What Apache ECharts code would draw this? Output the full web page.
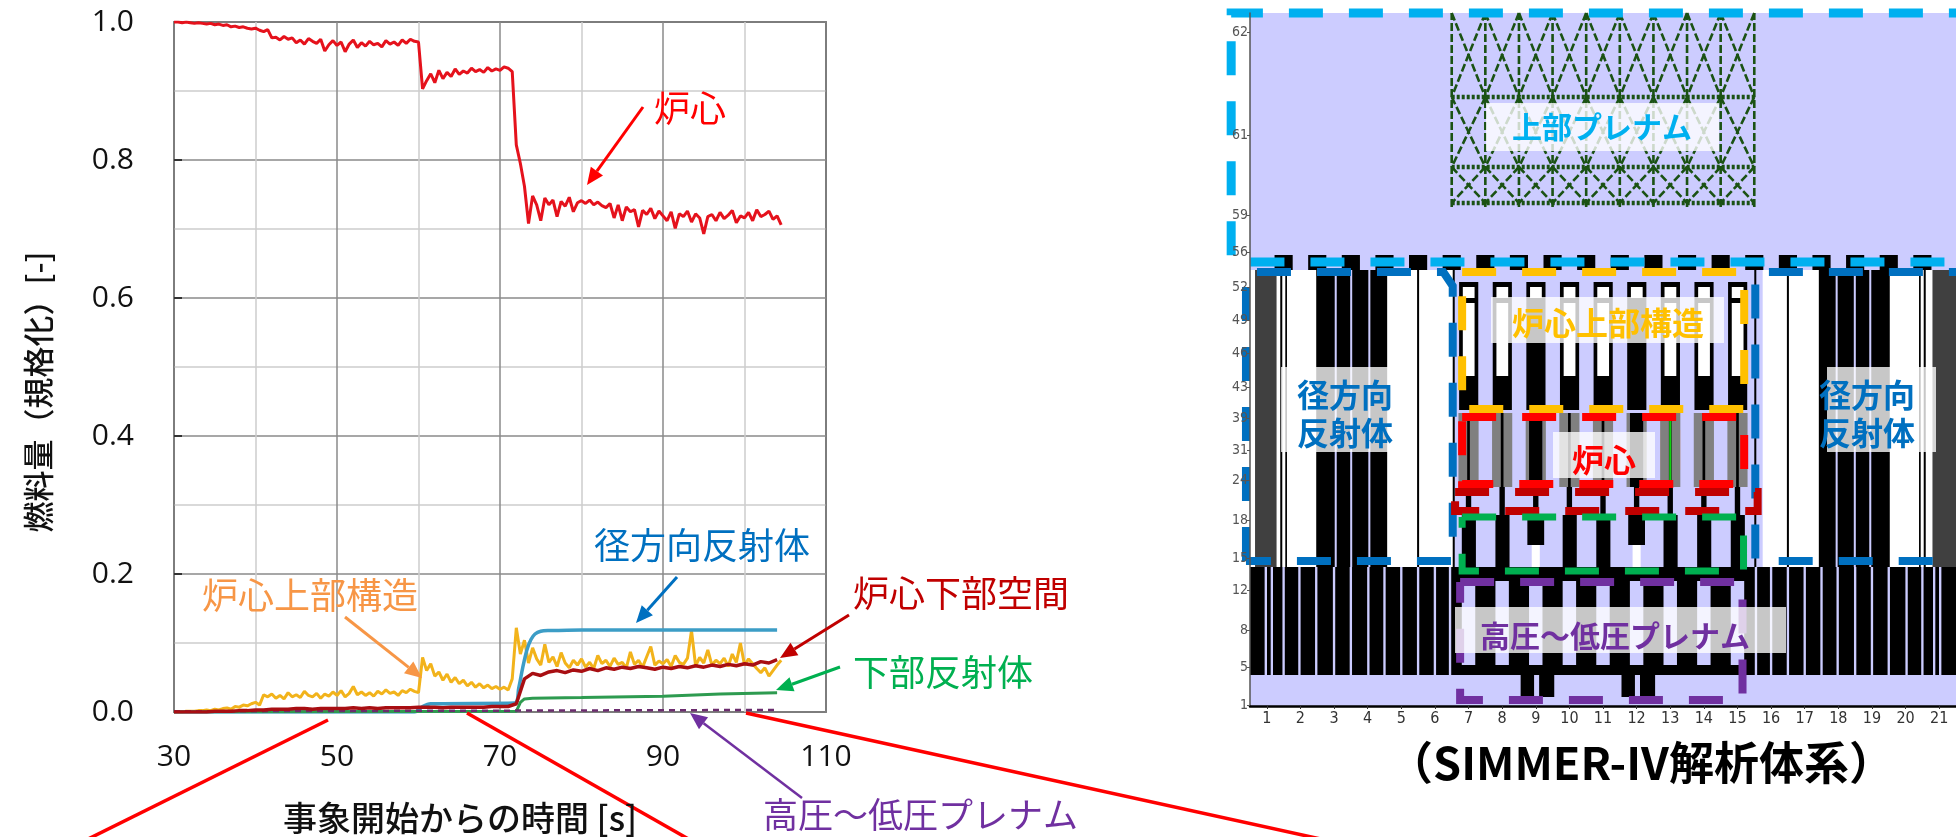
<!DOCTYPE html>
<html>
<head>
<meta charset="utf-8">
<script src="https://cdn.jsdelivr.net/npm/echarts@6/dist/echarts.min.js"></script>
<style>
html, body { margin: 0; padding: 0; background: #fff; }
#main { width: 1956px; height: 837px; }
</style>
</head>
<body>
<div id="main"></div>
<script>
var chart = echarts.init(document.getElementById('main'), null, {renderer: 'canvas'});

// ---------- left chart: fuel amount (normalised) vs time [s] ----------
var sampleStart = 30, sampleStep = 0.5;
var coreFuel = [
  1.000,1.000,0.999,1.000,0.999,0.998,0.999,0.998,0.997,0.998,
  0.996,0.997,0.995,0.996,0.993,0.994,0.992,0.993,0.991,0.990,
  0.991,0.988,0.986,0.989,0.977,0.978,0.974,0.979,0.975,0.977,
  0.970,0.974,0.968,0.976,0.972,0.969,0.975,0.958,0.967,0.973,
  0.966,0.971,0.957,0.968,0.974,0.963,0.970,0.965,0.972,0.967,
  0.969,0.964,0.973,0.968,0.971,0.966,0.974,0.969,0.975,0.972,
  0.971,0.903,0.915,0.925,0.912,0.930,0.918,0.927,0.921,0.932,
  0.924,0.929,0.926,0.933,0.928,0.931,0.927,0.934,0.929,0.932,
  0.930,0.935,0.933,0.928,0.822,0.795,0.762,0.708,0.748,0.735,
  0.712,0.745,0.735,0.742,0.718,0.740,0.733,0.746,0.725,0.738,
  0.741,0.737,0.742,0.735,0.739,0.734,0.731,0.737,0.716,0.735,
  0.712,0.732,0.725,0.728,0.703,0.727,0.721,0.730,0.715,0.726,
  0.719,0.712,0.725,0.701,0.722,0.718,0.726,0.710,0.722,0.716,
  0.693,0.718,0.721,0.712,0.724,0.715,0.720,0.727,0.709,0.719,
  0.716,0.724,0.712,0.728,0.718,0.721,0.726,0.714,0.719,0.706
];
var upperStructFuel = [
  0.000,0.000,0.000,0.001,0.001,0.001,0.002,0.002,0.003,0.002,
  0.004,0.003,0.005,0.006,0.004,0.008,0.007,0.010,0.009,0.012,
  0.014,0.010,0.025,0.022,0.026,0.020,0.024,0.019,0.028,0.022,
  0.025,0.021,0.030,0.024,0.022,0.027,0.020,0.026,0.023,0.029,
  0.024,0.031,0.022,0.027,0.037,0.025,0.029,0.024,0.028,0.023,
  0.030,0.026,0.032,0.027,0.029,0.024,0.031,0.028,0.033,0.030,
  0.028,0.079,0.060,0.070,0.052,0.058,0.046,0.055,0.043,0.050,
  0.041,0.046,0.038,0.043,0.036,0.041,0.035,0.039,0.034,0.037,
  0.033,0.036,0.032,0.048,0.122,0.084,0.104,0.071,0.093,0.077,
  0.068,0.098,0.072,0.080,0.066,0.086,0.071,0.064,0.075,0.068,
  0.077,0.065,0.072,0.063,0.082,0.070,0.075,0.066,0.078,0.069,
  0.072,0.064,0.087,0.069,0.075,0.065,0.080,0.095,0.068,0.074,
  0.070,0.076,0.066,0.082,0.072,0.069,0.078,0.118,0.067,0.079,
  0.071,0.090,0.068,0.075,0.070,0.078,0.066,0.084,0.072,0.100,
  0.068,0.077,0.070,0.063,0.057,0.064,0.052,0.060,0.068,0.075
];
var lowerSpaceStart = 30, lowerSpaceStep = 1;
var lowerSpaceFuel = [
  0,0,0,0,0,0.001,0.001,0.001,0.002,0.002,
  0.003,0.003,0.004,0.004,0.004,0.005,0.005,0.004,0.005,0.005,
  0.005,0.005,0.006,0.005,0.006,0.005,0.006,0.006,0.006,0.006,
  0.007,0.007,0.007,0.006,0.007,0.007,0.007,0.007,0.007,0.008,
  0.008,0.008,0.012,0.048,0.056,0.053,0.058,0.060,0.057,0.061,
  0.059,0.063,0.060,0.064,0.062,0.065,0.063,0.066,0.064,0.062,
  0.065,0.063,0.066,0.064,0.067,0.065,0.068,0.066,0.069,0.067,
  0.070,0.068,0.073,0.071,0.076
];
var radialReflFuel = [[30,0],[59.5,0],[60.5,0.008],[61.5,0.012],[71.8,0.013],[72.3,0.035],[72.8,0.065],
  [73.3,0.09],[73.8,0.105],[74.3,0.113],[75,0.117],[76,0.118],[80,0.119],[104,0.119]];
var lowerReflFuel = [[30,0],[72,0.001],[72.5,0.014],[73,0.019],[74,0.020],[80,0.021],[90,0.023],[97,0.026],[104,0.028]];
var plenumFuel = [[30,0.001],[72,0.002],[104,0.003]];

function toPairs(start, step, vals) {
  return vals.map(function (v, i) { return [start + i * step, v]; });
}

// ---------- right diagram: SIMMER-IV mesh (x = column, y = px above bottom) ----------
var colLabels = ['1','2','3','4','5','6','7','8','9','10','11','12','13','14','15','16','17','18','19','20','21'];
var rowTicks = [674, 571, 491, 454, 419, 386, 353, 319, 288, 256, 226, 186, 148, 116, 76, 39, 1];
var rowLabels = ['62','61','59','56','52','49','46','43','39','31','24','18','15','12','8','5','1'];

var LAV = 0, BLK = 1, WHT = 2, DGR = 3, GRY = 4, PNK = 5, GRN = 6;
var cellColors = ['#CCCCFF', '#000000', '#FFFFFF', '#404040', '#808080', '#FFC0C0', '#10D010'];

var baseCells = [
  [0, 21.6, 0, 693, LAV],
  [0, 21.6, 31, 139, BLK],
  [0, 6.05, 139, 436, WHT],
  [15.25, 21.6, 139, 436, WHT],
  [0.15, 0.79, 139, 436, DGR], [0.9, 0.96, 139, 436, BLK], [1.05, 1.1, 139, 436, BLK],
  [1.97, 4.08, 139, 436, BLK], [2.52, 2.58, 139, 436, LAV], [2.98, 3.04, 139, 436, LAV],
  [3.52, 3.58, 139, 436, LAV], [4.97, 5.03, 139, 436, BLK],
  [20.3, 21.6, 139, 436, DGR], [19.9, 19.95, 139, 436, BLK], [20.04, 20.1, 139, 436, BLK],
  [16.92, 19.03, 139, 436, BLK], [17.42, 17.48, 139, 436, LAV], [17.96, 18.02, 139, 436, LAV],
  [18.42, 18.48, 139, 436, LAV], [15.97, 16.03, 139, 436, BLK],
  [6.03, 6.09, 139, 436, BLK], [15.0, 15.06, 139, 436, BLK],
  [12.2, 12.8, 236, 276, PNK]
];
var topBlockCols = [1,2,3,4,5,6,7,8,9,10,11,12,13,14,15,16,17,18,19,20];
var lowerStripes = [0.47,0.65,1.0,1.47,1.97,2.5,3.0,3.52,4.0,4.5,5.0,5.5,5.95,
  15.05,15.5,16.0,16.5,17.0,17.48,18.0,18.5,19.0,19.53,20.0,20.35,20.53];
var assemblyCols = [7,8,9,10,11,12,13,14,15];
var controlCols = [9,12];

// shapes of one assembly, offsets within its column
var fuelAssembly = [
  [0.22,0.79,296,424,BLK],[0.33,0.68,408,419,WHT],[0.33,0.68,330,403,WHT],
  [0.2,0.8,219,293,GRY],[0.46,0.54,219,293,BLK],[0.42,0.58,191,219,BLK],
  [0.3,0.72,139,191,BLK],[0.3,0.7,41,125,LAV]
];
var controlAssembly = [
  [0.22,0.79,296,424,BLK],[0.33,0.68,408,419,WHT],
  [0.2,0.3,219,293,GRY],[0.7,0.8,219,293,GRY],[0.3,0.7,219,293,BLK],[0.42,0.58,191,219,BLK],
  [0.25,0.75,161,191,BLK],[0.38,0.62,139,161,WHT],[0.3,0.7,41,125,LAV],
  [0.05,0.45,9,31,BLK],[0.6,1.05,9,31,BLK]
];

var cells = baseCells.slice();
topBlockCols.forEach(function (c) { cells.push([c - 0.27, c + 0.27, 436, 451, BLK]); });
lowerStripes.forEach(function (c) { cells.push([c - 0.035, c + 0.035, 31, 139, LAV]); });
assemblyCols.forEach(function (k) {
  var tpl = controlCols.indexOf(k) >= 0 ? controlAssembly : fuelAssembly;
  tpl.forEach(function (r) { cells.push([k - 1 + r[0], k - 1 + r[1], r[2], r[3], r[4]]); });
});
cells.push([12.47, 12.53, 226, 290, GRN]);

// dashed region borders
var regionBorders = [
  {color: '#00B0F0', w: 9, pts: [[21.8,693],[-0.56,693],[-0.56,444],[21.8,444]]},
  {color: '#0070C0', w: 8, pts: [[-0.12,145],[-0.12,434],[5.75,434],[6.03,420],[6.03,145],[-0.12,145]]},
  {color: '#0070C0', w: 8, pts: [[21.8,434],[15.03,434],[15.03,145],[21.8,145]]},
  {color: '#FFC000', w: 8, pts: [[6.31,434],[14.7,434],[14.7,297],[6.31,297],[6.31,434]]},
  {color: '#FF0000', w: 8, pts: [[6.31,289],[14.7,289],[14.7,222],[6.31,222],[6.31,289]]},
  {color: '#C00000', w: 8, pts: [[6.1,214],[15.1,214],[15.1,195],[6.1,195],[6.1,214]]},
  {color: '#00B050', w: 7, pts: [[6.31,189],[14.68,189],[14.68,135],[6.31,135],[6.31,189]]},
  {color: '#7030A0', w: 8, pts: [[6.25,124],[14.65,124],[14.65,6],[6.25,6],[6.25,124]]}
];
var trussCols = [6,7,8,9,10,11,12,13,14,15];
var trussLevels = [693, 609, 539, 503];

function renderCell(params, api) {
  var p0 = api.coord([api.value(0), api.value(3)]);
  var p1 = api.coord([api.value(1), api.value(2)]);
  return {
    type: 'rect',
    shape: {x: p0[0], y: p0[1], width: p1[0] - p0[0], height: p1[1] - p0[1]},
    style: {fill: cellColors[api.value(4)]}
  };
}

function renderLines(params, api) {
  var kids = [];
  var trussStyle = {stroke: '#1B5214', lineWidth: 2.6, lineDash: [8, 3], fill: null};
  trussCols.forEach(function (c) {
    kids.push({type: 'polyline', shape: {points: [api.coord([c, 499]), api.coord([c, 693])]}, style: trussStyle});
  });
  trussLevels.slice(1).forEach(function (v) {
    kids.push({type: 'polyline', shape: {points: [api.coord([6, v]), api.coord([15, v])]},
      style: {stroke: '#1B5214', lineWidth: 4.5, lineDash: [3, 2], fill: null}});
  });
  for (var b = 0; b < trussLevels.length - 1; b++) {
    for (var i = 0; i < trussCols.length - 1; i++) {
      var c0 = trussCols[i], c1 = trussCols[i + 1], hi = trussLevels[b], lo = trussLevels[b + 1];
      kids.push({type: 'polyline', shape: {points: [api.coord([c0, hi]), api.coord([c1, lo])]}, style: trussStyle});
      kids.push({type: 'polyline', shape: {points: [api.coord([c1, hi]), api.coord([c0, lo])]}, style: trussStyle});
    }
  }
  regionBorders.forEach(function (o) {
    kids.push({
      type: 'polyline',
      shape: {points: o.pts.map(function (p) { return api.coord(p); })},
      style: {stroke: o.color, lineWidth: o.w, lineDash: [34, 26], fill: null}
    });
  });
  return {type: 'group', children: kids};
}

// ---------- annotations ----------
var cjk = "'Noto Sans CJK JP', sans-serif";
function arrow(x1, y1, x2, y2, color, w) {
  var a = Math.atan2(y2 - y1, x2 - x1), L = 17, H = 7.5;
  var bx = x2 - L * Math.cos(a), by = y2 - L * Math.sin(a);
  return [
    {type: 'line', z: 100, shape: {x1: x1, y1: y1, x2: bx, y2: by}, style: {stroke: color, lineWidth: w}},
    {type: 'polygon', z: 100, shape: {points: [[x2, y2], [bx + H * Math.sin(a), by - H * Math.cos(a)],
      [bx - H * Math.sin(a), by + H * Math.cos(a)]]}, style: {fill: color}}
  ];
}
function label(text, x, y, color, size, weight, align) {
  return {type: 'text', z: 101, x: x, y: y, style: {text: text, fill: color,
    font: (weight || 'normal') + ' ' + size + 'px ' + cjk, textAlign: align || 'left', textVerticalAlign: 'middle'}};
}
function box(x0, y0, x1, y1) {
  return {type: 'rect', z: 100, shape: {x: x0, y: y0, width: x1 - x0, height: y1 - y0},
    style: {fill: 'rgba(255,255,255,0.78)'}};
}

var graphics = [];
graphics.push({type: 'text', z: 101, x: 38, y: 392, rotation: Math.PI / 2,
  style: {text: '燃料量（規格化）[-]', fill: '#111', font: '500 31px ' + cjk, textAlign: 'center', textVerticalAlign: 'middle'}});
graphics.push(label('事象開始からの時間 [s]', 460, 818, '#111', 34, '500', 'center'));

graphics.push(label('炉心', 654, 108, '#FF0000', 36));
graphics = graphics.concat(arrow(643, 107, 587, 185, '#FF0000', 3));
graphics.push(label('径方向反射体', 594, 545, '#0070C0', 36));
graphics = graphics.concat(arrow(677, 577, 636, 623, '#0070C0', 3));
graphics.push(label('炉心上部構造', 202, 595, '#F79646', 36));
graphics = graphics.concat(arrow(345, 617, 422, 678, '#F79646', 3));
graphics.push(label('炉心下部空間', 853, 593, '#C00000', 36));
graphics = graphics.concat(arrow(849, 615, 780, 658, '#C00000', 3));
graphics.push(label('下部反射体', 853, 672, '#00B050', 36));
graphics = graphics.concat(arrow(840, 667, 776, 690, '#00B050', 3));
graphics.push(label('高圧～低圧プレナム', 763, 815, '#7030A0', 35));
graphics = graphics.concat(arrow(802, 798, 690, 713, '#7030A0', 2.5));

[[328, 720, 76, 845], [467, 713, 699, 845], [746, 713, 1348, 845]].forEach(function (l) {
  graphics.push({type: 'line', z: 99, shape: {x1: l[0], y1: l[1], x2: l[2], y2: l[3]},
    style: {stroke: '#FF0000', lineWidth: 3.5}});
});

graphics.push(box(1486, 103, 1719, 151));
graphics.push(label('上部プレナム', 1602, 127, '#00B0F0', 30, 'bold', 'center'));
graphics.push(box(1491, 297, 1724, 343));
graphics.push(label('炉心上部構造', 1608, 323, '#FFC000', 32, 'bold', 'center'));
graphics.push(box(1281, 367, 1389, 452));
graphics.push(label('径方向', 1345, 395, '#0070C0', 32, 'bold', 'center'));
graphics.push(label('反射体', 1345, 433, '#0070C0', 32, 'bold', 'center'));
graphics.push(box(1827, 367, 1936, 452));
graphics.push(label('径方向', 1867, 395, '#0070C0', 32, 'bold', 'center'));
graphics.push(label('反射体', 1867, 433, '#0070C0', 32, 'bold', 'center'));
graphics.push(box(1553, 432, 1655, 478));
graphics.push(label('炉心', 1604, 460, '#FF0000', 32, 'bold', 'center'));
graphics.push(box(1455, 607, 1786, 653));
graphics.push(label('高圧～低圧プレナム', 1615, 636, '#7030A0', 30, 'bold', 'center'));
graphics.push(label('（SIMMER-IV解析体系）', 1641, 763, '#000000', 45, 'bold', 'center'));

var axisDigits = "'Open Sans', 'Noto Sans', sans-serif";
var meshDigits = "'Liberation Sans Narrow', 'DejaVu Sans Condensed', sans-serif";

var option = {
  animation: false,
  backgroundColor: '#ffffff',
  grid: [
    {left: 174, top: 22, width: 652, height: 690, show: true, borderColor: '#222', borderWidth: 1.5, backgroundColor: '#fff'},
    {left: 1250, top: 13, width: 715, height: 693}
  ],
  xAxis: [
    {
      type: 'value', gridIndex: 0, min: 30, max: 110, interval: 20,
      axisLine: {show: false}, axisTick: {show: false},
      axisLabel: {fontSize: 30, fontFamily: axisDigits, color: '#111', margin: 30},
      splitLine: {lineStyle: {color: '#8a8a8a', width: 1.5}},
      minorTick: {show: false, splitNumber: 2},
      minorSplitLine: {show: true, lineStyle: {color: '#cdcdcd', width: 1.5}}
    },
    {
      type: 'value', gridIndex: 1, min: 0, max: 21, z: 10,
      axisLine: {show: true, onZero: false, lineStyle: {color: '#000', width: 2.5}},
      axisTick: {show: true, length: 3, customValues: colLabels.map(function (s, i) { return i + 0.5; }), lineStyle: {color: '#333'}},
      axisLabel: {customValues: colLabels.map(function (s, i) { return i + 0.5; }),
        formatter: function (v) { return colLabels[Math.round(v - 0.5)]; },
        fontSize: 16, fontFamily: meshDigits, color: '#333', margin: 5},
      splitLine: {show: false}
    }
  ],
  yAxis: [
    {
      type: 'value', gridIndex: 0, min: 0, max: 1, interval: 0.2,
      axisLine: {show: false},
      axisTick: {show: true, inside: true, length: 8, lineStyle: {color: '#333', width: 2}},
      axisLabel: {fontSize: 30, fontFamily: axisDigits, color: '#111', margin: 40,
        formatter: function (v) { return v.toFixed(1); }},
      splitLine: {lineStyle: {color: '#8a8a8a', width: 1.5}},
      minorTick: {show: false, splitNumber: 2},
      minorSplitLine: {show: true, lineStyle: {color: '#cdcdcd', width: 1.5}}
    },
    {
      type: 'value', gridIndex: 1, min: 0, max: 693, z: 10,
      axisLine: {show: true, onZero: false, lineStyle: {color: '#555', width: 1.5}},
      axisTick: {show: true, length: 3, customValues: rowTicks, lineStyle: {color: '#555'}},
      axisLabel: {customValues: rowTicks,
        formatter: function (v) { var i = rowTicks.indexOf(v); return i >= 0 ? rowLabels[i] : ''; },
        fontSize: 14, fontFamily: meshDigits, color: '#555', margin: 2},
      splitLine: {show: false}
    }
  ],
  series: [
    {name: '炉心上部構造', type: 'line', xAxisIndex: 0, yAxisIndex: 0, showSymbol: false,
      data: toPairs(sampleStart, sampleStep, upperStructFuel), lineStyle: {color: '#F2B31B', width: 3}},
    {name: '径方向反射体', type: 'line', xAxisIndex: 0, yAxisIndex: 0, showSymbol: false, smooth: 0.3,
      data: radialReflFuel, lineStyle: {color: '#3C9DC6', width: 3.5}},
    {name: '下部反射体', type: 'line', xAxisIndex: 0, yAxisIndex: 0, showSymbol: false,
      data: lowerReflFuel, lineStyle: {color: '#2E9B50', width: 3}},
    {name: '高圧～低圧プレナム', type: 'line', xAxisIndex: 0, yAxisIndex: 0, showSymbol: false,
      data: plenumFuel, lineStyle: {color: '#6B2C6E', width: 2.5, type: [6, 5]}},
    {name: '炉心下部空間', type: 'line', xAxisIndex: 0, yAxisIndex: 0, showSymbol: false,
      data: toPairs(lowerSpaceStart, lowerSpaceStep, lowerSpaceFuel), lineStyle: {color: '#A80E12', width: 3.5}},
    {name: '炉心', type: 'line', xAxisIndex: 0, yAxisIndex: 0, showSymbol: false,
      data: toPairs(sampleStart, sampleStep, coreFuel), lineStyle: {color: '#E5121C', width: 3}},
    {name: 'mesh', type: 'custom', xAxisIndex: 1, yAxisIndex: 1, z: 1, silent: true,
      encode: {x: [0, 1], y: [2, 3]}, renderItem: renderCell, data: cells},
    {name: 'regions', type: 'custom', xAxisIndex: 1, yAxisIndex: 1, z: 3, silent: true,
      encode: {x: 0, y: 1}, renderItem: renderLines, data: [[10, 300]]}
  ],
  graphic: {elements: graphics}
};

chart.setOption(option);
</script>
</body>
</html>
